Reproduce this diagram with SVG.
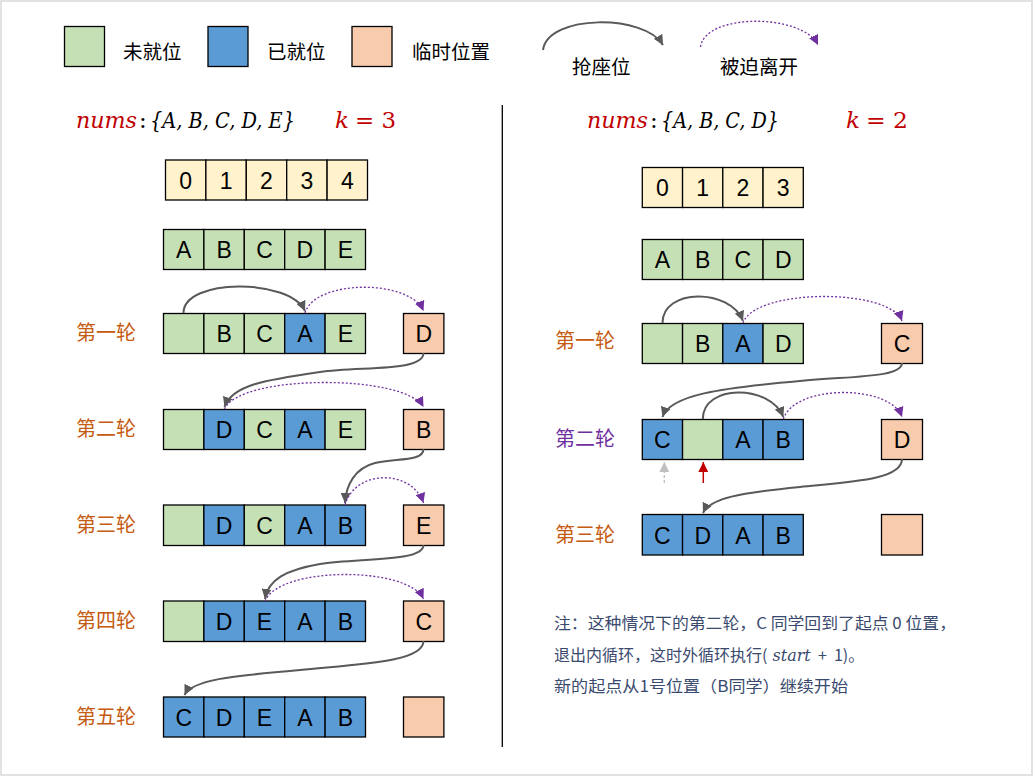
<svg xmlns="http://www.w3.org/2000/svg" width="1034" height="777" viewBox="0 0 1034 777">
<style>
.c{stroke:#000;stroke-width:1.3}
.g{fill:#C5E0B4}.b{fill:#5B9BD5}.p{fill:#F8CBAD}.y{fill:#FFF2CC}
.t{font-family:"Liberation Sans",Arial,sans-serif;font-size:23px;text-anchor:middle;fill:#000}
.lb{font-family:"Noto Sans CJK SC","Noto Sans",sans-serif;font-size:20px;fill:#C55A11}
.lg{font-family:"Noto Sans CJK SC","Noto Sans",sans-serif;font-size:19.5px;fill:#000}
.m{font-family:"DejaVu Serif","Liberation Serif",serif;font-size:23px;fill:#000}
.i{font-style:italic}
.r{fill:#C00000}
.nt{font-family:"Noto Sans CJK SC","Noto Sans",sans-serif;font-size:16px;fill:#3A4A6E}
.s{fill:none;stroke:#595959;stroke-width:2}
.d{fill:none;stroke:#7030A0;stroke-width:1.3;stroke-dasharray:2 2}
</style>
<defs>
<marker id="ag" markerUnits="userSpaceOnUse" markerWidth="12" markerHeight="10" refX="10" refY="5" orient="auto"><path d="M0,0 L10,5 L0,10 Z" fill="#595959"/></marker>
<marker id="ap" markerUnits="userSpaceOnUse" markerWidth="12" markerHeight="10" refX="10" refY="5" orient="auto"><path d="M0,0 L10,5 L0,10 Z" fill="#7030A0"/></marker>
<marker id="al" markerUnits="userSpaceOnUse" markerWidth="12" markerHeight="10" refX="10" refY="5" orient="auto"><path d="M0,0 L10,5 L0,10 Z" fill="#BFBFBF"/></marker>
<marker id="ar" markerUnits="userSpaceOnUse" markerWidth="12" markerHeight="10" refX="10" refY="5" orient="auto"><path d="M0,0 L10,5 L0,10 Z" fill="#C00000"/></marker>
</defs>
<rect x="0" y="0" width="1034" height="777" fill="#fff"/>
<rect x="1" y="1" width="1031" height="774" fill="none" stroke="#D9D9D9" stroke-width="1.5"/>

<g id="legend">
<rect class="c g" x="64.5" y="26.5" width="40" height="40"/>
<text class="lg" x="123" y="58.5">未就位</text>
<rect class="c b" x="208" y="26.5" width="40" height="40"/>
<text class="lg" x="267" y="58.5">已就位</text>
<rect class="c p" x="352" y="26.5" width="40" height="40"/>
<text class="lg" x="412" y="58.5">临时位置</text>
<path class="s" d="M543,50 C548,14 645,14 663,45" marker-end="url(#ag)"/>
<text class="lg" x="572" y="74">抢座位</text>
<path class="d" d="M700.5,47 C705,13 802,13 818,45" marker-end="url(#ap)"/>
<text class="lg" x="720" y="74">被迫离开</text>
</g>

<line x1="502.3" y1="105" x2="502.3" y2="747" stroke="#000" stroke-width="1.3"/>

<g id="left-header">
<text class="m r i" x="76" y="128" textLength="61" lengthAdjust="spacingAndGlyphs">nums</text>
<text class="m" x="139" y="128">:</text>
<text class="m i" x="150" y="128" textLength="145" lengthAdjust="spacingAndGlyphs">{A, B, C, D, E}</text>
<text class="m r i" x="335" y="128">k</text>
<text class="m r" x="355" y="128" textLength="41" lengthAdjust="spacingAndGlyphs">= 3</text>
</g>

<g id="left-index">
<rect class="c y" x="165.5" y="160" width="40.4" height="40"/><text class="t" x="185.7" y="188.5">0</text>
<rect class="c y" x="205.9" y="160" width="40.4" height="40"/><text class="t" x="226.1" y="188.5">1</text>
<rect class="c y" x="246.3" y="160" width="40.4" height="40"/><text class="t" x="266.5" y="188.5">2</text>
<rect class="c y" x="286.7" y="160" width="40.4" height="40"/><text class="t" x="306.9" y="188.5">3</text>
<rect class="c y" x="327.1" y="160" width="40.4" height="40"/><text class="t" x="347.3" y="188.5">4</text>
</g>

<g id="left-init">
<rect class="c g" x="163.5" y="229.5" width="40.4" height="40"/><text class="t" x="183.7" y="258">A</text>
<rect class="c g" x="203.9" y="229.5" width="40.4" height="40"/><text class="t" x="224.1" y="258">B</text>
<rect class="c g" x="244.3" y="229.5" width="40.4" height="40"/><text class="t" x="264.5" y="258">C</text>
<rect class="c g" x="284.7" y="229.5" width="40.4" height="40"/><text class="t" x="304.9" y="258">D</text>
<rect class="c g" x="325.1" y="229.5" width="40.4" height="40"/><text class="t" x="345.3" y="258">E</text>
</g>

<g id="left-r1">
<text class="lb" x="76" y="340">第一轮</text>
<rect class="c g" x="163.5" y="313.5" width="40.4" height="40"/>
<rect class="c g" x="203.9" y="313.5" width="40.4" height="40"/><text class="t" x="224.1" y="342">B</text>
<rect class="c g" x="244.3" y="313.5" width="40.4" height="40"/><text class="t" x="264.5" y="342">C</text>
<rect class="c b" x="284.7" y="313.5" width="40.4" height="40"/><text class="t" x="304.9" y="342">A</text>
<rect class="c g" x="325.1" y="313.5" width="40.4" height="40"/><text class="t" x="345.3" y="342">E</text>
<rect class="c p" x="403.5" y="313.5" width="40.4" height="40"/><text class="t" x="423.7" y="342">D</text>
</g>
<g id="left-r2">
<text class="lb" x="76" y="436">第二轮</text>
<rect class="c g" x="163.5" y="409.5" width="40.4" height="40"/>
<rect class="c b" x="203.9" y="409.5" width="40.4" height="40"/><text class="t" x="224.1" y="438">D</text>
<rect class="c g" x="244.3" y="409.5" width="40.4" height="40"/><text class="t" x="264.5" y="438">C</text>
<rect class="c b" x="284.7" y="409.5" width="40.4" height="40"/><text class="t" x="304.9" y="438">A</text>
<rect class="c g" x="325.1" y="409.5" width="40.4" height="40"/><text class="t" x="345.3" y="438">E</text>
<rect class="c p" x="403.5" y="409.5" width="40.4" height="40"/><text class="t" x="423.7" y="438">B</text>
</g>
<g id="left-r3">
<text class="lb" x="76" y="532">第三轮</text>
<rect class="c g" x="163.5" y="505" width="40.4" height="40.5"/>
<rect class="c b" x="203.9" y="505" width="40.4" height="40.5"/><text class="t" x="224.1" y="534">D</text>
<rect class="c g" x="244.3" y="505" width="40.4" height="40.5"/><text class="t" x="264.5" y="534">C</text>
<rect class="c b" x="284.7" y="505" width="40.4" height="40.5"/><text class="t" x="304.9" y="534">A</text>
<rect class="c b" x="325.1" y="505" width="40.4" height="40.5"/><text class="t" x="345.3" y="534">B</text>
<rect class="c p" x="403.5" y="505" width="40.4" height="40.5"/><text class="t" x="423.7" y="534">E</text>
</g>
<g id="left-r4">
<text class="lb" x="76" y="628">第四轮</text>
<rect class="c g" x="163.5" y="601" width="40.4" height="40.5"/>
<rect class="c b" x="203.9" y="601" width="40.4" height="40.5"/><text class="t" x="224.1" y="630">D</text>
<rect class="c b" x="244.3" y="601" width="40.4" height="40.5"/><text class="t" x="264.5" y="630">E</text>
<rect class="c b" x="284.7" y="601" width="40.4" height="40.5"/><text class="t" x="304.9" y="630">A</text>
<rect class="c b" x="325.1" y="601" width="40.4" height="40.5"/><text class="t" x="345.3" y="630">B</text>
<rect class="c p" x="403.5" y="601" width="40.4" height="40.5"/><text class="t" x="423.7" y="630">C</text>
</g>
<g id="left-r5">
<text class="lb" x="76" y="724">第五轮</text>
<rect class="c b" x="163.5" y="697" width="40.4" height="40"/><text class="t" x="183.7" y="725.5">C</text>
<rect class="c b" x="203.9" y="697" width="40.4" height="40"/><text class="t" x="224.1" y="725.5">D</text>
<rect class="c b" x="244.3" y="697" width="40.4" height="40"/><text class="t" x="264.5" y="725.5">E</text>
<rect class="c b" x="284.7" y="697" width="40.4" height="40"/><text class="t" x="304.9" y="725.5">A</text>
<rect class="c b" x="325.1" y="697" width="40.4" height="40"/><text class="t" x="345.3" y="725.5">B</text>
<rect class="c p" x="403.5" y="697" width="40.4" height="40"/>
</g>

<g id="right-header">
<text class="m r i" x="587" y="128" textLength="61" lengthAdjust="spacingAndGlyphs">nums</text>
<text class="m" x="650" y="128">:</text>
<text class="m i" x="661" y="128" textLength="118" lengthAdjust="spacingAndGlyphs">{A, B, C, D}</text>
<text class="m r i" x="846" y="128">k</text>
<text class="m r" x="866" y="128" textLength="42" lengthAdjust="spacingAndGlyphs">= 2</text>
</g>

<g id="right-index">
<rect class="c y" x="642.3" y="167.5" width="40.25" height="40"/><text class="t" x="662.4" y="196">0</text>
<rect class="c y" x="682.55" y="167.5" width="40.25" height="40"/><text class="t" x="702.7" y="196">1</text>
<rect class="c y" x="722.8" y="167.5" width="40.25" height="40"/><text class="t" x="742.9" y="196">2</text>
<rect class="c y" x="763.05" y="167.5" width="40.25" height="40"/><text class="t" x="783.2" y="196">3</text>
</g>
<g id="right-init">
<rect class="c g" x="642.3" y="239.5" width="40.25" height="40"/><text class="t" x="662.4" y="268">A</text>
<rect class="c g" x="682.55" y="239.5" width="40.25" height="40"/><text class="t" x="702.7" y="268">B</text>
<rect class="c g" x="722.8" y="239.5" width="40.25" height="40"/><text class="t" x="742.9" y="268">C</text>
<rect class="c g" x="763.05" y="239.5" width="40.25" height="40"/><text class="t" x="783.2" y="268">D</text>
</g>
<g id="right-r1">
<text class="lb" x="555" y="348">第一轮</text>
<rect class="c g" x="642.3" y="323.5" width="40.25" height="40"/>
<rect class="c g" x="682.55" y="323.5" width="40.25" height="40"/><text class="t" x="702.7" y="352">B</text>
<rect class="c b" x="722.8" y="323.5" width="40.25" height="40"/><text class="t" x="742.9" y="352">A</text>
<rect class="c g" x="763.05" y="323.5" width="40.25" height="40"/><text class="t" x="783.2" y="352">D</text>
<rect class="c p" x="881.5" y="323.5" width="41" height="40"/><text class="t" x="902" y="352">C</text>
</g>
<g id="right-r2">
<text class="lb" x="555" y="446" style="fill:#7030A0">第二轮</text>
<rect class="c b" x="642.3" y="419.5" width="40.25" height="40"/><text class="t" x="662.4" y="448">C</text>
<rect class="c g" x="682.55" y="419.5" width="40.25" height="40"/>
<rect class="c b" x="722.8" y="419.5" width="40.25" height="40"/><text class="t" x="742.9" y="448">A</text>
<rect class="c b" x="763.05" y="419.5" width="40.25" height="40"/><text class="t" x="783.2" y="448">B</text>
<rect class="c p" x="881.5" y="419.5" width="41" height="40"/><text class="t" x="902" y="448">D</text>
</g>
<g id="right-r3">
<text class="lb" x="555" y="542">第三轮</text>
<rect class="c b" x="642.3" y="514.5" width="40.25" height="40.5"/><text class="t" x="662.4" y="543.5">C</text>
<rect class="c b" x="682.55" y="514.5" width="40.25" height="40.5"/><text class="t" x="702.7" y="543.5">D</text>
<rect class="c b" x="722.8" y="514.5" width="40.25" height="40.5"/><text class="t" x="742.9" y="543.5">A</text>
<rect class="c b" x="763.05" y="514.5" width="40.25" height="40.5"/><text class="t" x="783.2" y="543.5">B</text>
<rect class="c p" x="881.5" y="514.5" width="41" height="40.5"/>
</g>

<g id="note">
<text class="nt" x="554" y="629" textLength="402" lengthAdjust="spacingAndGlyphs">注：这种情况下的第二轮，C 同学回到了起点 0 位置，</text>
<text class="nt" x="554" y="661">退出内循环，这时外循环执行(<tspan font-family="DejaVu Serif,serif" font-style="italic">&#160;start</tspan>&#160;&#160;+&#160;&#160;1)。</text>
<text class="nt" x="554" y="692" textLength="294" lengthAdjust="spacingAndGlyphs">新的起点从1号位置（B同学）继续开始</text>
</g>

<g id="connectors">
<path class="s" d="M183.5,313 C183.5,278 290,278 305,311" marker-end="url(#ag)"/>
<path class="d" d="M305,313 C315,279 410,279 423.5,311" marker-end="url(#ap)"/>
<path class="s" d="M423.5,353 C423.5,372 360,366 320,372 C265,380 232,385 224.5,407" marker-end="url(#ag)"/>
<path class="d" d="M224.5,409 C240,374 405,374 423.5,407" marker-end="url(#ap)"/>
<path class="s" d="M423.5,449 C423.5,462 395,458 375,463 C355,468 346,485 345,503" marker-end="url(#ag)"/>
<path class="d" d="M345,505 C355,469 412,469 423.5,503" marker-end="url(#ap)"/>
<path class="s" d="M423.5,545 C423.5,562 360,558 320,564 C285,570 268,580 265,599" marker-end="url(#ag)"/>
<path class="d" d="M265,601 C280,566 408,566 423.5,599" marker-end="url(#ap)"/>
<path class="s" d="M423.5,641 C423.5,662 360,664 300,670 C230,676 192,680 184.5,695" marker-end="url(#ag)"/>

<path class="s" d="M662.5,323 C662.5,288 730,288 743,321" marker-end="url(#ag)"/>
<path class="d" d="M743,323 C755,288 890,288 902,321" marker-end="url(#ap)"/>
<path class="s" d="M902,363 C902,378 850,376 800,381 C720,388 670,395 662.5,417" marker-end="url(#ag)"/>
<path class="s" d="M702.8,419 C702.8,384 770,384 783.3,417" marker-end="url(#ag)"/>
<path class="d" d="M783.3,419 C795,384 890,384 902,417" marker-end="url(#ap)"/>
<path class="s" d="M902,459 C902,480 850,482 800,487 C740,493 710,498 703,513" marker-end="url(#ag)"/>
<line x1="664.3" y1="483" x2="664.3" y2="462" stroke="#BFBFBF" stroke-width="1.3" stroke-dasharray="3 2" marker-end="url(#al)"/>
<line x1="703.3" y1="483" x2="703.3" y2="462" stroke="#C00000" stroke-width="1.5" marker-end="url(#ar)"/>
</g>
</svg>
